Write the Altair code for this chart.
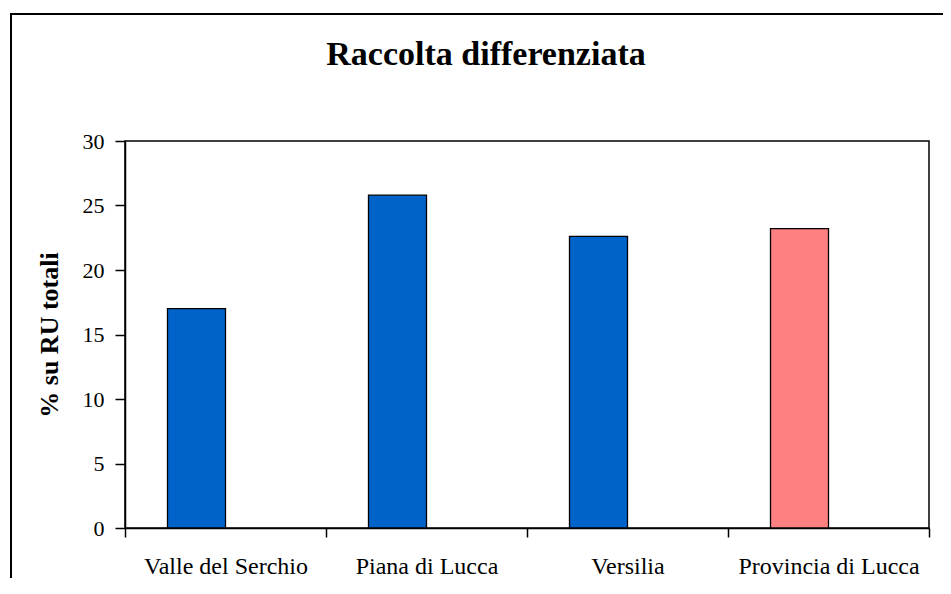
import altair as alt
import pandas as pd

categories = ["Valle del Serchio", "Piana di Lucca", "Versilia", "Provincia di Lucca"]
values = [17.0, 25.8, 22.6, 23.2]
groups = ["area", "area", "area", "totale"]
title_text = "Raccolta differenziata"
y_title = "% su RU totali"

df = pd.DataFrame({"zona": categories, "valore": values, "gruppo": groups})

W, H = 804, 387
PAD = {"left": 117, "top": 133, "right": 14, "bottom": 50}

bars = alt.Chart(df).mark_bar(
    width=58, xOffset=-29, stroke="black", strokeWidth=1.3
).encode(
    x=alt.X("zona:N", sort=categories, title=None,
            scale=alt.Scale(paddingInner=0, paddingOuter=0),
            axis=alt.Axis(labelAngle=0, labelFont="Liberation Serif", labelFontSize=24,
                          labelColor="black", tickBand="extent", tickSize=9,
                          tickColor="black", tickWidth=1.5, domainColor="black",
                          domainWidth=1.5, labelPadding=17, labelLimit=400)),
    y=alt.Y("valore:Q", title=y_title,
            scale=alt.Scale(domain=[0, 30], nice=False),
            axis=alt.Axis(values=[0, 5, 10, 15, 20, 25, 30], grid=False,
                          labelFont="Liberation Serif", labelFontSize=22,
                          labelColor="black", tickSize=10, tickColor="black",
                          tickWidth=1.5, domainColor="black", domainWidth=1.5,
                          labelPadding=11, titleFont="Liberation Serif",
                          titleFontSize=26, titleFontWeight="bold",
                          titleColor="black", titlePadding=20)),
    color=alt.Color("gruppo:N", legend=None,
                    scale=alt.Scale(domain=["area", "totale"], range=["#0063C9", "#FF8080"])),
)

border = alt.Chart(df).mark_rect(
    fill=None, stroke="black", strokeWidth=2, clip=False
).encode(
    x=alt.value(-114), x2=alt.value(840), y=alt.value(-127), y2=alt.value(470)
).transform_filter(alt.datum.zona == categories[0])

chart = alt.layer(border, bars).properties(
    width=W, height=H,
    autosize=alt.AutoSizeParams(type="none"),
    padding=PAD,
    background="white",
    title=alt.TitleParams(title_text, font="Liberation Serif", fontSize=34,
                          fontWeight="bold", color="black", anchor="middle",
                          baseline="alphabetic", offset=-86, dx=-41),
).configure_view(stroke="black", strokeWidth=1.5)

chart.save("out.html", embed_options={"renderer": "svg", "actions": False})
